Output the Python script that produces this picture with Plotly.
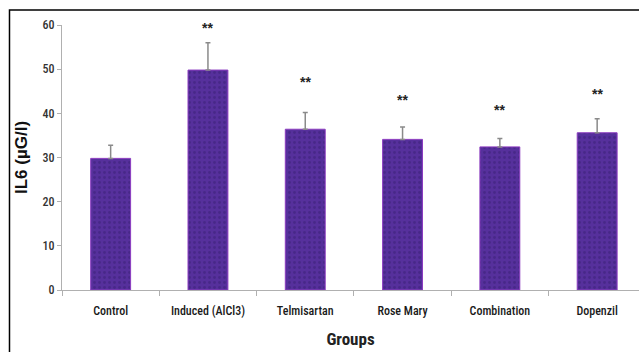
import plotly.graph_objects as go

groups = ["Control", "Induced (AlCl3)", "Telmisartan", "Rose Mary", "Combination", "Dopenzil"]
il6_means = [29.8, 49.8, 36.4, 34.1, 32.4, 35.6]
il6_err = [3.0, 6.2, 3.8, 2.8, 1.9, 3.2]
star_labels = ["", "**", "**", "**", "**", "**"]
star_y = [None, 59.3, 47.1, 43.0, 40.8, 44.4]
y_ticks = [0, 10, 20, 30, 40, 50, 60]

tick_font = "Roboto Condensed, Liberation Sans Narrow, Roboto, sans-serif"

fig = go.Figure()
fig.add_trace(go.Bar(
    x=groups, y=il6_means, width=0.41,
    marker=dict(
        color="#56309c",
        line=dict(color="#8c3cc0", width=1),
        pattern=dict(shape=".", fgcolor="#2c1a60", fgopacity=0.35, size=5, solidity=0.25),
    ),
    error_y=dict(type="data", symmetric=False, array=il6_err, arrayminus=[0]*len(il6_err),
                 color="#8a8a8a", thickness=1.5, width=2.5),
    showlegend=False,
))

for g, s, yv in zip(groups, star_labels, star_y):
    if s:
        fig.add_annotation(x=g, y=yv, text="<b>" + s + "</b>", showarrow=False,
                           font=dict(size=14, color="#222222", family="Liberation Sans"),
                           yanchor="middle")

fig.add_shape(type="rect", xref="paper", yref="paper",
              x0=-0.091, x1=1.02, y0=-0.3, y1=1.0566,
              line=dict(color="black", width=1.5), fillcolor="rgba(0,0,0,0)", layer="below")

fig.update_layout(
    width=639, height=352,
    margin=dict(l=62, r=0, t=25, b=62),
    paper_bgcolor="white", plot_bgcolor="white",
    font=dict(family=tick_font, color="#222222"),
    bargap=0.59,
    xaxis=dict(
        range=[-0.5, 5.43], showline=True, linecolor="#b0b0b0", linewidth=1,
        ticks="outside", ticklen=5, tickcolor="#b0b0b0", tickson="boundaries",
        ticklabelstandoff=10,
        tickfont=dict(size=12, family=tick_font, color="#1a1a1a", weight=500),
        title=dict(text="<b>Groups</b>", font=dict(size=17, family=tick_font, color="#222222"), standoff=15),
        showgrid=False, zeroline=False,
    ),
    yaxis=dict(
        range=[0, 60], tickvals=y_ticks, showline=True, linecolor="#b0b0b0", linewidth=1,
        ticks="outside", ticklen=4, tickcolor="#b0b0b0",
        tickfont=dict(size=12, family=tick_font, color="#333333", weight=500),
        title=dict(text="<b>IL6 (µG/l)</b>", font=dict(size=17, family="Liberation Sans, sans-serif", color="#111111"), standoff=10),
        showgrid=False, zeroline=False,
    ),
)

fig.write_html("out.html")
